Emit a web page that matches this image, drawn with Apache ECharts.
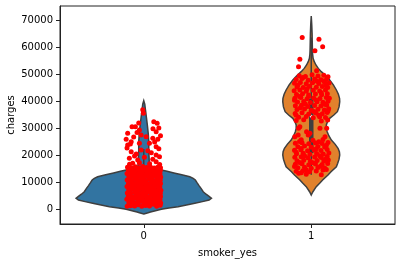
<!DOCTYPE html>
<html>
<head>
<meta charset="utf-8">
<script src="https://cdn.jsdelivr.net/npm/echarts@6/dist/echarts.min.js"></script>
<style>html,body{margin:0;padding:0;background:#fff}#c{width:402px;height:263px}</style>
</head>
<body>
<div id="c"></div>
<script>
// ---- data ----
const categories = ['0', '1'];
const yTicks = [0, 10000, 20000, 30000, 40000, 50000, 60000, 70000];

// violin outline (charges level, half width in category units)
const violinY0 = [-1740, -1260, -1000, -500, 0, 500, 965, 1600, 2230, 2850, 3450, 4080, 4800, 5600, 6530, 7700, 8800, 9900, 10880, 11500, 12100, 12800, 13500, 14100, 14600, 15000, 15400, 16000, 17000, 19000, 22000, 25000, 28000, 31000, 34000, 37000, 39000, 40300];
const violinW0 = [0, 0.026, 0.04, 0.07, 0.105, 0.15, 0.205, 0.255, 0.305, 0.35, 0.39, 0.404, 0.39, 0.372, 0.355, 0.343, 0.33, 0.318, 0.308, 0.295, 0.275, 0.227, 0.18, 0.139, 0.105, 0.07, 0.045, 0.035, 0.033, 0.032, 0.03, 0.03, 0.027, 0.022, 0.016, 0.01, 0.006, 0];
const violinY1 = [5300, 6530, 8390, 9650, 10880, 12740, 13970, 15800, 17080, 18600, 20160, 21400, 22640, 24200, 25720, 27300, 28800, 30000, 31290, 32500, 33780, 35000, 36230, 38000, 39940, 41200, 42700, 44280, 46200, 48000, 49500, 51080, 52300, 53560, 54800, 56050, 57600, 59130, 62000, 65330, 68500, 71750];
const violinW1 = [0, 0.01, 0.03, 0.05, 0.068, 0.1, 0.118, 0.15, 0.158, 0.166, 0.17, 0.168, 0.16, 0.142, 0.12, 0.105, 0.095, 0.09, 0.09, 0.097, 0.11, 0.135, 0.156, 0.166, 0.17, 0.169, 0.162, 0.15, 0.132, 0.11, 0.088, 0.06, 0.042, 0.028, 0.018, 0.011, 0.008, 0.007, 0.006, 0.005, 0.003, 0];

// inner box statistics
const whiskerLow = [1121, 12829];
const q1 = [3986, 20826];
const median = [7345, 34456];
const q3 = [11362, 41019];
const whiskerHigh = [22400, 63770];

// strip points: non-smokers (category 0)
const nsJitter = [
 -0.099,-0.078,-0.054,-0.033,-0.012,0.011,0.034,0.056,0.077,0.098,
 -0.089,-0.066,-0.044,-0.023,0.000,0.022,0.045,0.066,0.088,0.101,
 -0.101,-0.077,-0.056,-0.034,-0.011,0.012,0.033,0.055,0.078,0.097,
 -0.092,-0.068,-0.045,-0.021,0.002,0.023,0.044,0.067,0.089,0.100,
 -0.098,-0.079,-0.055,-0.032,-0.010,0.013,0.035,0.054,0.076,0.099,
 -0.090,-0.067,-0.043,-0.024,0.001,0.024,0.043,0.065,0.087,0.102,
 -0.100,-0.076,-0.057,-0.033,-0.013,0.010,0.032,0.057,0.079,0.096,
 -0.091,-0.069,-0.046,-0.022,0.003,0.021,0.046,0.068,0.086,0.100,
 -0.099,-0.077,-0.054,-0.035,-0.011,0.011,0.034,0.055,0.078,0.098,
 -0.089,-0.067,-0.044,-0.023,-0.001,0.023,0.045,0.066,0.089,0.101,
 -0.100,-0.078,-0.056,-0.033,-0.012,0.012,0.033,0.056,0.077,0.097,
 -0.091,-0.068,-0.045,-0.022,0.001,0.022,0.044,0.067,0.088,0.099,
 -0.097,-0.073,-0.050,-0.028,-0.006,0.017,0.040,0.062,0.083,0.100,
 -0.006,-0.002,0.060,0.080,-0.050,-0.070,-0.026,-0.096,0.074,-0.105,
 -0.075,-0.016,0.014,0.054,0.084,-0.096,-0.026,0.034,0.074,-0.075,
 -0.016,0.024,0.074,-0.086,-0.036,0.004,0.054,0.094,-0.066,-0.026,
 0.074,-0.100,0.090,-0.060,0.100,-0.045,0.045,-0.085,0.035,0.095,
 -0.055,0.065,-0.080,0.055,-0.040,-0.030,0.090
];
const nsCharges = [
 1150,1320,1210,1700,1130,1460,1260,1890,1180,1550,
 2450,2600,2280,2900,2500,2350,2750,2480,2650,2310,
 3700,3550,3980,3620,3850,3500,3900,3640,3750,3580,
 4850,4700,5050,4780,4950,4680,5100,4820,4900,4750,
 6100,5950,6250,6000,6180,5900,6300,6050,6120,5980,
 7250,7400,7150,7500,7300,7180,7450,7220,7350,7100,
 8500,8350,8650,8420,8600,8300,8550,8450,8700,8380,
 9650,9800,9550,9900,9700,9600,9850,9620,9750,9580,
 10900,10750,11050,10850,11000,10700,11100,10800,10950,10780,
 12100,12250,11950,12300,12050,12200,11980,12350,12150,12000,
 13300,13150,13450,13250,13400,13100,13500,13200,13350,13180,
 14500,14350,14650,14450,14600,14300,14550,14400,14700,14380,
 15600,15300,15800,15450,15900,15500,15700,15350,15650,15400,
 36910,35620,32530,31910,30670,30670,29440,28200,28820,25970,
 25100,27580,26960,26340,25970,23870,24490,24490,23250,21390,
 22010,21760,20160,18920,18300,19290,18550,19540,17060,17310,
 17680,22800,22500,26800,27300,20500,21000,16700,16900,16600,
 19800,25000,24200,29900,28500,32000,30200
];

// strip points: smokers (category 1)
const sJitter = [
 -0.054,0.046,0.068,0.022,-0.068,-0.076,0.032,
 -0.072,-0.035,0.005,0.040,0.075,0.100,
 -0.090,-0.055,-0.018,0.020,0.058,0.092,
 -0.100,-0.065,-0.030,0.008,0.045,0.080,0.106,
 -0.085,-0.048,-0.010,0.030,0.066,0.098,
 -0.102,-0.068,-0.030,0.012,0.050,0.085,
 -0.088,-0.052,-0.015,0.025,0.062,0.096,
 -0.098,-0.062,-0.025,0.015,0.052,0.090,0.108,
 -0.082,-0.045,-0.005,0.035,0.070,0.100,
 -0.095,-0.058,-0.020,0.020,0.058,0.092,
 -0.085,-0.040,0.000,0.040,0.078,0.104,
 -0.096,-0.055,-0.015,0.028,0.066,0.095,
 -0.075,-0.030,0.012,0.050,0.085,
 -0.090,-0.045,0.060,0.098,
 -0.050,0.035,-0.080,0.090,-0.025,0.060,-0.070,0.030,-0.035,0.080,
 -0.065,0.015,0.100,-0.090,0.045,-0.015,0.075,-0.100,
 -0.068,-0.078,0.052,0.092,-0.008,-0.098,-0.018,-0.076,-0.028,0.082,
 -0.060,0.010,0.070,
 -0.095,-0.055,-0.015,0.025,0.065,0.100,
 -0.080,-0.040,0.000,0.040,0.080,
 -0.100,-0.062,-0.022,0.018,0.058,0.095,
 -0.088,-0.048,-0.008,0.032,0.072,0.105,
 -0.098,-0.060,-0.020,0.020,0.060,0.095,
 -0.085,-0.045,-0.005,0.035,0.075,0.102,
 -0.095,-0.055,-0.015,0.025,0.065,0.098,
 -0.080,-0.040,0.000,0.040,0.080,
 -0.090,-0.050,-0.010,0.030,0.070,
 -0.075,-0.030,0.060,
 -0.070,0.045,0.090,-0.060,0.030,-0.090,0.050,-0.040,
 0.085,-0.070,0.010,-0.100,0.055,-0.030,0.090,-0.060
];
const sCharges = [
 63770,63100,60360,58880,55680,52930,51450,
 49600,49300,49900,49450,49750,49200,
 48200,48500,47900,48350,48050,48400,
 46800,47050,46600,46950,46700,47100,46850,
 45400,45200,45650,45300,45550,45250,
 44000,44250,43800,44150,43900,44300,
 42600,42850,42400,42750,42500,42900,
 41200,41450,41000,41350,41100,41500,41250,
 39800,40050,39600,39950,39700,40100,
 38400,38650,38200,38550,38300,38700,
 37000,37250,36800,37150,36900,37300,
 35600,35850,35400,35750,35500,35900,
 34200,34450,34000,34350,34100,
 33000,33200,32800,33100,
 48900,47500,46100,45900,44700,43300,41900,40500,39100,39000,
 37700,36300,36500,34900,34900,42000,47600,40500,
 30660,27580,30070,30070,28210,26950,27580,30070,28800,26950,
 25800,25600,25900,
 24500,24700,24300,24650,24400,24750,
 23200,23450,23000,23350,23100,
 21900,22150,21700,22050,21800,22200,
 20600,20850,20400,20750,20500,20900,
 19300,19550,19100,19450,19200,19600,
 18000,18250,17800,18150,17900,18300,
 16700,16950,16500,16850,16600,17000,
 15400,15650,15200,15550,15300,
 14100,14350,13900,14250,14590,
 13360,13000,12829,
 25200,25100,23800,22600,22500,21200,19900,19900,
 18600,17400,17300,15900,16000,14700,14800,13600
];

// ---- build ----
const violins = [
  {y: violinY0, w: violinW0, color: '#3274a1'},
  {y: violinY1, w: violinW1, color: '#e1812c'}
];
const points = [];
nsJitter.forEach((j, i) => points.push([0 + j, nsCharges[i]]));
sJitter.forEach((j, i) => points.push([1 + j, sCharges[i]]));

const edge = '#3f3f3f';
const txt = {fontFamily: 'DejaVu Sans', fontSize: 10, color: '#000'};
const chart = echarts.init(document.getElementById('c'), null, {renderer: 'canvas'});
chart.setOption({
  animation: false,
  grid: {left: 60, right: 7, top: 6, bottom: 39, containLabel: false, outerBoundsMode: 'none',
         show: true, borderColor: '#222', borderWidth: 1, backgroundColor: 'transparent'},
  xAxis: {
    type: 'value', min: -0.5, max: 1.5,
    name: 'smoker_yes', nameLocation: 'middle', nameGap: 24, nameMoveOverlap: false,
    nameTextStyle: txt,
    axisLine: {show: true, onZero: false, lineStyle: {color: '#222', width: 1}},
    axisTick: {show: true, length: 4, customValues: [0, 1], lineStyle: {color: '#222'}},
    axisLabel: Object.assign({margin: 7, customValues: [0, 1], formatter: v => categories[Math.round(v)]}, txt),
    splitLine: {show: false}
  },
  yAxis: {
    type: 'value', min: -5450, max: 75450,
    name: 'charges', nameLocation: 'middle', nameGap: 44, nameRotate: 90, nameMoveOverlap: false,
    nameTextStyle: txt,
    axisLine: {show: true, onZero: false, lineStyle: {color: '#222', width: 1}},
    axisTick: {show: true, length: 4, customValues: yTicks, lineStyle: {color: '#222'}},
    axisLabel: Object.assign({margin: 7, customValues: yTicks, formatter: v => String(v)}, txt),
    splitLine: {show: false}
  },
  series: [
    {
      type: 'custom', z: 1, clip: true,
      data: categories.map((c, i) => [i]),
      renderItem: function (params, api) {
        const k = params.dataIndex;
        const v = violins[k];
        const pts = [];
        for (let i = 0; i < v.y.length; i++) pts.push(api.coord([k + v.w[i], v.y[i]]));
        for (let i = v.y.length - 1; i >= 0; i--) pts.push(api.coord([k - v.w[i], v.y[i]]));
        return {type: 'polygon', shape: {points: pts}, style: {fill: v.color, stroke: edge, lineWidth: 1.5}};
      }
    },
    {
      type: 'custom', z: 2, clip: true,
      data: categories.map((c, i) => [i]),
      renderItem: function (params, api) {
        const k = params.dataIndex;
        const a = api.coord([k, whiskerLow[k]]), b = api.coord([k, whiskerHigh[k]]);
        const c1 = api.coord([k, q1[k]]), c3 = api.coord([k, q3[k]]);
        const m = api.coord([k, median[k]]);
        return {type: 'group', children: [
          {type: 'line', shape: {x1: a[0], y1: a[1], x2: b[0], y2: b[1]}, style: {stroke: edge, lineWidth: 1.5}},
          {type: 'line', shape: {x1: c1[0], y1: c1[1], x2: c3[0], y2: c3[1]}, style: {stroke: edge, lineWidth: 4.5}},
          {type: 'circle', shape: {cx: m[0], cy: m[1], r: 1.6}, style: {fill: '#fff', stroke: edge, lineWidth: 0.5}}
        ]};
      }
    },
    {
      type: 'scatter', z: 3, symbol: 'circle', symbolSize: 5,
      itemStyle: {color: '#ff0000', opacity: 1},
      data: points
    }
  ]
});
</script>
</body>
</html>
